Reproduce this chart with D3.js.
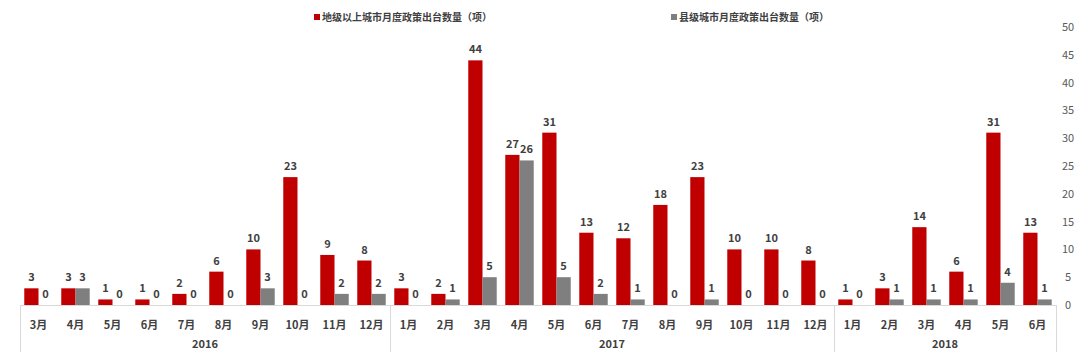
<!DOCTYPE html>
<html>
<head>
<meta charset="utf-8">
<script src="https://cdn.jsdelivr.net/npm/d3@7"></script>
<style>
body{margin:0;background:#fff;}
text{font-family:"Noto Sans CJK SC","Noto Sans",sans-serif;}
</style>
</head>
<body>
<div id="chart-area"></div>
<script>
// data
var years=["2016","2017","2018"];
var months2016=["3月","4月","5月","6月","7月","8月","9月","10月","11月","12月"];
var months2017=["1月","2月","3月","4月","5月","6月","7月","8月","9月","10月","11月","12月"];
var months2018=["1月","2月","3月","4月","5月","6月"];
var cityValues=[3,3,1,1,2,6,10,23,9,8, 3,2,44,27,31,13,12,18,23,10,10,8, 1,3,14,6,31,13];
var countyValues=[0,3,0,0,0,0,3,0,2,2, 0,1,5,26,5,2,1,0,1,0,0,0, 0,1,1,1,4,1];
var seriesNames=["地级以上城市月度政策出台数量（项）","县级城市月度政策出台数量（项）"];
var yTicks=[0,5,10,15,20,25,30,35,40,45,50];

var colors=["#c00000","#7f7f7f"];
var width=1080,height=352;
var plotLeft=20,plotRight=1056,plotTop=27,base=305;

var monthGroups=[months2016,months2017,months2018];
var data=[];
monthGroups.forEach(function(ms,gi){
    ms.forEach(function(m){
        data.push({year:years[gi],month:m,key:years[gi]+"-"+m});
    });
});
data.forEach(function(d,i){d.v=[cityValues[i],countyValues[i]];});

var svg=d3.select("#chart-area").append("svg")
    .attr("width",width)
    .attr("height",height);

var x=d3.scaleBand()
    .domain(data.map(function(d){return d.key;}))
    .range([plotLeft,plotRight]);

var xs=d3.scaleBand()
    .domain([0,1])
    .range([0,x.bandwidth()])
    .paddingOuter(0.3)
    .paddingInner(0);

var y=d3.scaleLinear().domain([0,50]).range([base,plotTop]);

// right axis labels
svg.append("g").selectAll("text")
    .data(yTicks).enter()
    .append("text")
    .attr("x",1068)
    .attr("y",function(d){return y(d)+4;})
    .attr("text-anchor","middle")
    .attr("font-size","11px")
    .attr("fill","#595959")
    .text(function(d){return d;});

// baseline
svg.append("line")
    .attr("x1",plotLeft).attr("x2",plotRight)
    .attr("y1",base+0.5).attr("y2",base+0.5)
    .attr("stroke","#d9d9d9");

// bars
var groups=svg.append("g").selectAll("g")
    .data(data).enter()
    .append("g")
    .attr("transform",function(d){return "translate("+x(d.key)+",0)";});

groups.selectAll("rect")
    .data(function(d){return d.v;}).enter()
    .append("rect")
    .attr("x",function(d,i){return xs(i);})
    .attr("y",function(d){return y(d);})
    .attr("width",xs.bandwidth())
    .attr("height",function(d){return base-y(d);})
    .attr("fill",function(d,i){return colors[i];});

groups.selectAll("text")
    .data(function(d){return d.v;}).enter()
    .append("text")
    .attr("x",function(d,i){return xs(i)+xs.bandwidth()/2;})
    .attr("y",function(d){return y(d)-7;})
    .attr("text-anchor","middle")
    .attr("font-size","11px")
    .attr("font-weight","bold")
    .attr("fill","#404040")
    .text(function(d){return d;});

// month labels
svg.append("g").selectAll("text")
    .data(data).enter()
    .append("text")
    .attr("x",function(d){return x(d.key)+x.bandwidth()/2;})
    .attr("y",329)
    .attr("text-anchor","middle")
    .attr("font-size","11px")
    .attr("font-weight","bold")
    .attr("fill","#404040")
    .text(function(d){return d.month;});

// year groups
var yearInfo=years.map(function(yr){
    var keys=data.filter(function(d){return d.year===yr;});
    return {year:yr,x0:x(keys[0].key),x1:x(keys[keys.length-1].key)+x.bandwidth()};
});

var sepX=[plotLeft].concat(yearInfo.map(function(d){return d.x1;}));
svg.append("g").selectAll("line")
    .data(sepX).enter()
    .append("line")
    .attr("x1",function(d){return Math.round(d)+0.5;})
    .attr("x2",function(d){return Math.round(d)+0.5;})
    .attr("y1",base)
    .attr("y2",height)
    .attr("stroke","#d9d9d9");

svg.append("g").selectAll("text")
    .data(yearInfo).enter()
    .append("text")
    .attr("x",function(d){return (d.x0+d.x1)/2;})
    .attr("y",348)
    .attr("text-anchor","middle")
    .attr("font-size","11px")
    .attr("font-weight","bold")
    .attr("fill","#404040")
    .text(function(d){return d.year;});

// legend
var legendX=[314,671];
var legend=svg.append("g").selectAll("g")
    .data(seriesNames).enter()
    .append("g")
    .attr("transform",function(d,i){return "translate("+legendX[i]+",13)";});
legend.append("rect")
    .attr("width",6).attr("height",6)
    .attr("y",1)
    .attr("fill",function(d,i){return colors[i];});
legend.append("text")
    .attr("x",8)
    .attr("y",8)
    .attr("font-size","10px")
    .attr("font-weight","bold")
    .attr("fill","#404040")
    .text(function(d){return d;});
</script>
</body>
</html>
